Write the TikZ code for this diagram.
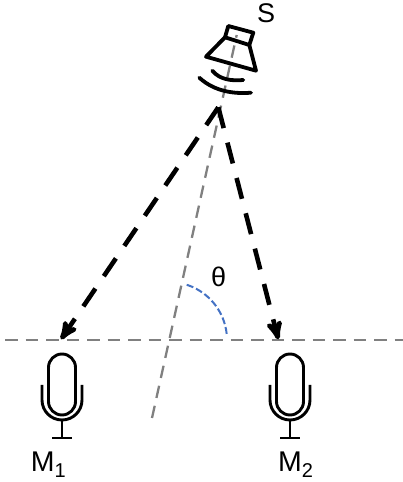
\documentclass[tikz,border=0pt]{standalone}
\usepackage{fontspec}
\setmainfont{Liberation Sans}
\usetikzlibrary{arrows}
\definecolor{arcblue}{RGB}{68,114,196}

\begin{document}
\begin{tikzpicture}[>=stealth',x=1pt,y=1pt,
                    guide/.style={draw=gray,line width=2.3pt,dash pattern=on 12.5pt off 8pt},
                    wave/.style={draw=black,line width=4.6pt,dash pattern=on 21.5pt off 15pt},
                    sketch/.style={draw=black,line width=2.9pt,line join=round,line cap=round},
                    speaker/.style={sketch,line width=3.8pt},
                    label node/.style={font=\fontsize{27}{27}\selectfont,inner sep=0pt,anchor=base west},
                    mic label/.style={label node,font=\fontsize{28.5}{28.5}\selectfont},
                    mic/.pic={
                      \draw[sketch] (-13.5,80.5) arc (180:360:13.5) -- (13.5,114.5) arc (0:180:13.5) -- cycle;
                      \draw[sketch,line cap=butt] (-20,97) -- (-20,82) arc (180:360:20) -- (20,97);
                      \draw[sketch,line cap=butt] (0,62) -- (0,44);
                      \draw[sketch,line cap=butt] (-10,44) -- (10,44);
                    }]
  \useasboundingbox (0,0) rectangle (403,482);
  \coordinate (left) at (5,142);
  \coordinate (right) at (403,142);
  \coordinate (top) at (236.7,447);
  \coordinate (bottom) at (152,64);
  \coordinate (source) at (218.3,374.7);
  \coordinate (m1) at (61,142.7);
  \coordinate (m2) at (278.3,142.7);
  \coordinate (center) at (169,142);
  % guides
  \draw[guide] (left) -- (right);
  \draw[guide] (bottom) -- (top);
  \draw[draw=arcblue,line width=2pt,dash pattern=on 7pt off 3pt]
    ([shift={(6:58)}]center) arc (6:75:58);
  % speaker
  \draw[speaker] (228.3,456) -- (253.3,449.3) -- (249.3,437) -- (225,444.7) -- cycle;
  \draw[speaker] (225,444.7) -- (206,425.3) -- (256,411.3) -- (249.3,437);
  \draw[speaker] (212.3,411.3) .. controls (220,402) and (232,401) .. (243.3,402);
  \draw[speaker] (199.3,404.3) .. controls (215,390) and (235,388) .. (251,389.3);
  % paths
  \draw[wave,->] (source) -- (m1);
  \draw[wave,->] (source) -- (m2);
  % mics
  \pic at (62,0) {mic};
  \pic at (290,0) {mic};
  \node[label node] (s) at (257,459) {S};
  \node[label node] (theta) at (211,195) {θ};
  \node[mic label] (m1 label) at (30.7,10) {M\raisebox{-5.5pt}{\fontsize{20}{20}\selectfont 1}};
  \node[mic label] (m2 label) at (278,10) {M\raisebox{-5.5pt}{\fontsize{20}{20}\selectfont 2}};
\end{tikzpicture}
\end{document}
